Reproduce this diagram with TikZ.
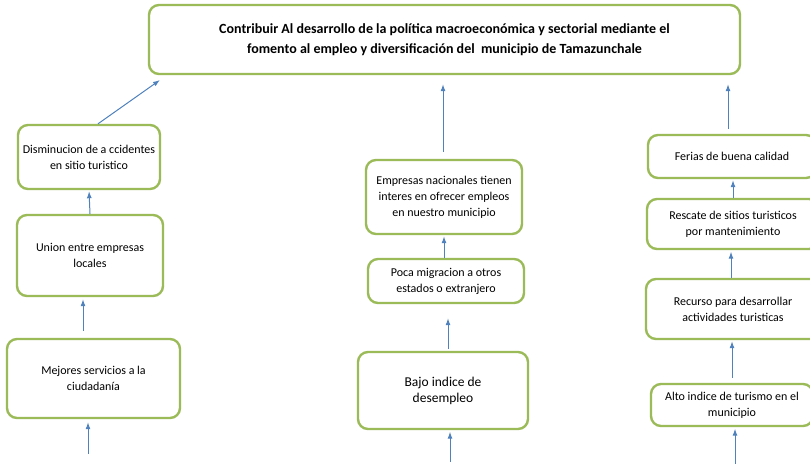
\documentclass[tikz,border=0pt]{standalone}
\usepackage{fontspec}
\setmainfont{Carlito}
\usetikzlibrary{arrows.meta}
\definecolor{olivo}{RGB}{155,187,89}
\definecolor{azul}{RGB}{79,129,189}

\begin{document}
\begin{tikzpicture}[x=1pt,y=-1pt,
		caja/.style={draw=olivo, line width=2.4pt, rounded corners=10pt, align=center, inner sep=2pt, font=\fontsize{12}{16}\selectfont},
		flecha/.style={draw=azul, line width=1pt, -{Latex[length=7pt,width=5pt]}}]
			\useasboundingbox (0,0) rectangle (810,464);
			\clip (0,0) rectangle (810,464);
			\node[caja, minimum width=591pt, minimum height=69pt, font=\fontsize{14}{20}\selectfont\bfseries] (meta) at (444.5,39.5) {Contribuir Al desarrollo de la política macroeconómica y sectorial mediante el\\fomento al empleo y diversificación del~~municipio de Tamazunchale};
			\node[caja, minimum width=142pt, minimum height=64pt] (dism) at (89,157) {Disminucion de a ccidentes\\en sitio turistico};
			\node[caja, minimum width=146pt, minimum height=81pt] (union) at (90,255.5) {Union entre empresas\\locales};
			\node[caja, minimum width=173pt, minimum height=79pt] (mejores) at (93.5,378.5) {Mejores servicios a la\\ciudadanía};
			\node[caja, minimum width=156pt, minimum height=74pt] (empresas) at (444,197) {Empresas nacionales tienen\\interes en ofrecer empleos\\en nuestro municipio};
			\node[caja, minimum width=156pt, minimum height=44pt] (poca) at (446,281) {Poca migracion a otros\\estados o extranjero};
			\node[caja, minimum width=170pt, minimum height=77pt, font=\fontsize{13.5}{16}\selectfont] (bajo) at (443,390.5) {Bajo indice de\\desempleo};
			\node[caja, minimum width=168pt, minimum height=43pt] (ferias) at (732,156.5) {Ferias de buena calidad};
			\node[caja, minimum width=172pt, minimum height=50pt] (rescate) at (733,224) {Rescate de sitios turisticos\\por mantenimiento};
			\node[caja, minimum width=174pt, minimum height=60pt] (recurso) at (733,309) {Recurso para desarrollar\\actividades turisticas};
			\node[caja, minimum width=162pt, minimum height=42pt] (alto) at (732,405) {Alto indice de turismo en el\\municipio};
			\coordinate (m1) at (160,80);
			\coordinate (b1) at (88,454);
			\coordinate (b2) at (450,462);
			\coordinate (b3) at (735,464);
			\draw[flecha] ([xshift=9pt]dism.north) -- (m1);
			\draw[flecha, shorten >=1pt] (union.north) -- (dism.south);
			\draw[flecha, shorten <=7pt, shorten >=2pt] ([xshift=-10.5pt]mejores.north) -- ([xshift=-7pt]union.south);
			\draw[flecha, shorten >=3pt] (b1) -- (b1 |- mejores.south);
			\draw[flecha, shorten <=7pt, shorten >=9pt] ([xshift=-1pt]empresas.north) -- ([xshift=-1pt]empresas.north |- meta.south);
			\draw[flecha, shorten >=1pt] ([xshift=-2pt]poca.north) -- ([xshift=-2pt]poca.north |- empresas.south);
			\draw[flecha, shorten <=2pt, shorten >=14pt] ([xshift=5pt]bajo.north) -- ([xshift=5pt]bajo.north |- poca.south);
			\draw[flecha, shorten >=1.5pt] (b2) -- (b2 |- bajo.south);
			\draw[flecha, shorten <=5pt, shorten >=9pt] ([xshift=-4pt]ferias.north) -- ([xshift=-4pt]ferias.north |- meta.south);
			\draw[flecha, shorten >=1pt] (rescate.north) -- (rescate.north |- ferias.south);
			\draw[flecha, shorten >=1.5pt] ([xshift=-2pt]recurso.north) -- ([xshift=-2pt]recurso.north |- rescate.south);
			\draw[flecha, shorten <=5pt, shorten >=1pt] (alto.north) -- (alto.north |- recurso.south);
			\draw[flecha, shorten >=1.5pt] (b3) -- (b3 |- alto.south);
		\end{tikzpicture}
\end{document}
